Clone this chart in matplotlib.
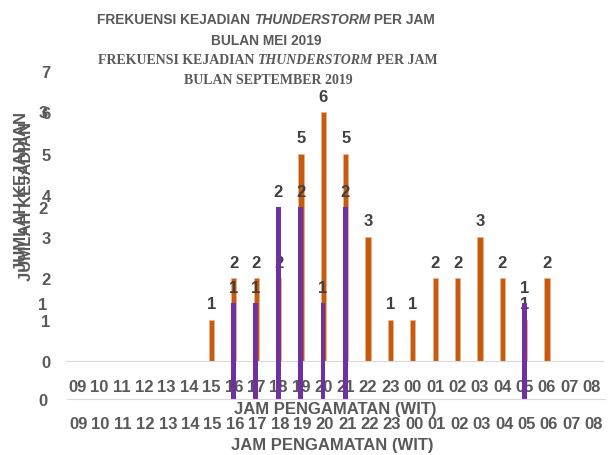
import numpy as np
import matplotlib.pyplot as plt
from matplotlib import font_manager

hours = ['09', '10', '11', '12', '13', '14', '15', '16', '17', '18', '19', '20',
         '21', '22', '23', '00', '01', '02', '03', '04', '05', '06', '07', '08']
sep_counts = [0, 0, 0, 0, 0, 0, 1, 2, 2, 2, 5, 6, 5, 3, 1, 1, 2, 2, 3, 2, 1, 2, 0, 0]
mei_counts = [0, 0, 0, 0, 0, 0, 0, 1, 1, 2, 2, 1, 2, 0, 0, 0, 0, 0, 0, 0, 1, 0, 0, 0]

names = {f.name for f in font_manager.fontManager.ttflist}
SANS = 'Liberation Sans Narrow' if 'Liberation Sans Narrow' in names else 'Liberation Sans'
SERIF = 'Liberation Serif'
GRAY = '#595959'
DARK = '#404040'
ORANGE = '#C55A11'
PURPLE = '#7030A0'

W, H = 613, 456
fig = plt.figure(figsize=(W / 100, H / 100), dpi=100)

def px_axes(left, top, right, bottom):
    return fig.add_axes([left / W, 1 - bottom / H, (right - left) / W, (bottom - top) / H])

def style(ax, ymax):
    ax.set_facecolor('none')
    for s in ['top', 'right', 'left']:
        ax.spines[s].set_visible(False)
    ax.spines['bottom'].set_color('#D9D9D9')
    ax.tick_params(length=0, labelsize=12, labelcolor=GRAY)
    ax.set_ylim(0, ymax)
    ax.set_yticks(range(ymax + 1))
    ax.set_xlim(-0.5, len(hours) - 0.5)
    ax.set_xticks(range(len(hours)))
    ax.set_xticklabels(hours)
    for lab in ax.get_xticklabels() + ax.get_yticklabels():
        lab.set_fontfamily(SANS)
        lab.set_fontweight('bold')

x = np.arange(len(hours))

# September chart (orange)
ax1 = px_axes(66, 72, 603, 362)
style(ax1, 7)
ax1.tick_params(axis='x', pad=13)
ax1.tick_params(axis='y', pad=11)
ax1.bar(x, sep_counts, width=0.23, color=ORANGE, edgecolor='#F4B183', linewidth=0.5)
for i, v in enumerate(sep_counts):
    if v > 0:
        ax1.annotate(str(v), (x[i], v), xytext=(0, 11.5), textcoords='offset points',
                     ha='center', va='center', fontsize=12, fontweight='bold',
                     color=DARK, family=SANS)

# Mei chart (purple)
ax2 = px_axes(67, 112, 605, 400)
style(ax2, 3)
ax2.tick_params(axis='x', pad=12)
ax2.tick_params(axis='y', pad=14)
ax2.bar(x - 0.08, mei_counts, width=0.21, color=PURPLE)
for i, v in enumerate(mei_counts):
    if v > 0:
        ax2.annotate(str(v), (x[i] - 0.08, v), xytext=(0, 11.5), textcoords='offset points',
                     ha='center', va='center', fontsize=12, fontweight='bold',
                     color=DARK, family=SANS)

# axis titles
fig.text(335 / W, 1 - 410 / H, 'JAM PENGAMATAN (WIT)', ha='center', va='center',
         fontsize=12, fontweight='bold', color=GRAY, family=SANS)
fig.text(332 / W, 1 - 446 / H, 'JAM PENGAMATAN (WIT)', ha='center', va='center',
         fontsize=12, fontweight='bold', color=GRAY, family=SANS)
fig.text(22 / W, 1 - 192 / H, 'JUMLAH KEJADIAN', rotation=90, ha='center', va='center',
         fontsize=12, fontweight='bold', color=GRAY, family=SANS)
fig.text(27 / W, 1 - 202 / H, 'JUMLAH KEJADIAN', rotation=90, ha='center', va='center',
         fontsize=12, fontweight='bold', color=GRAY, family=SANS)

# titles with italic word
renderer = fig.canvas.get_renderer()

def rich_line(cx, cy, parts, size, family):
    texts = []
    for s, st in parts:
        t = fig.text(0, 1 - cy / H, s, ha='left', va='center', fontsize=size,
                     fontweight='bold', fontstyle=st, color=GRAY, family=family)
        texts.append(t)
    widths = [t.get_window_extent(renderer).width for t in texts]
    xpos = cx - sum(widths) / 2
    for t, w in zip(texts, widths):
        t.set_x(xpos / W)
        xpos += w

rich_line(266, 20, [('FREKUENSI KEJADIAN ', 'normal'), ('THUNDERSTORM', 'italic'),
                    (' PER JAM', 'normal')], 9.9, SANS)
rich_line(266, 41, [('BULAN MEI 2019', 'normal')], 9.9, SANS)
rich_line(268, 61, [('FREKUENSI KEJADIAN ', 'normal'), ('THUNDERSTORM', 'italic'),
                    (' PER JAM', 'normal')], 10, SERIF)
rich_line(268, 81, [('BULAN SEPTEMBER 2019', 'normal')], 10, SERIF)

fig.savefig('out.png', dpi=100)
